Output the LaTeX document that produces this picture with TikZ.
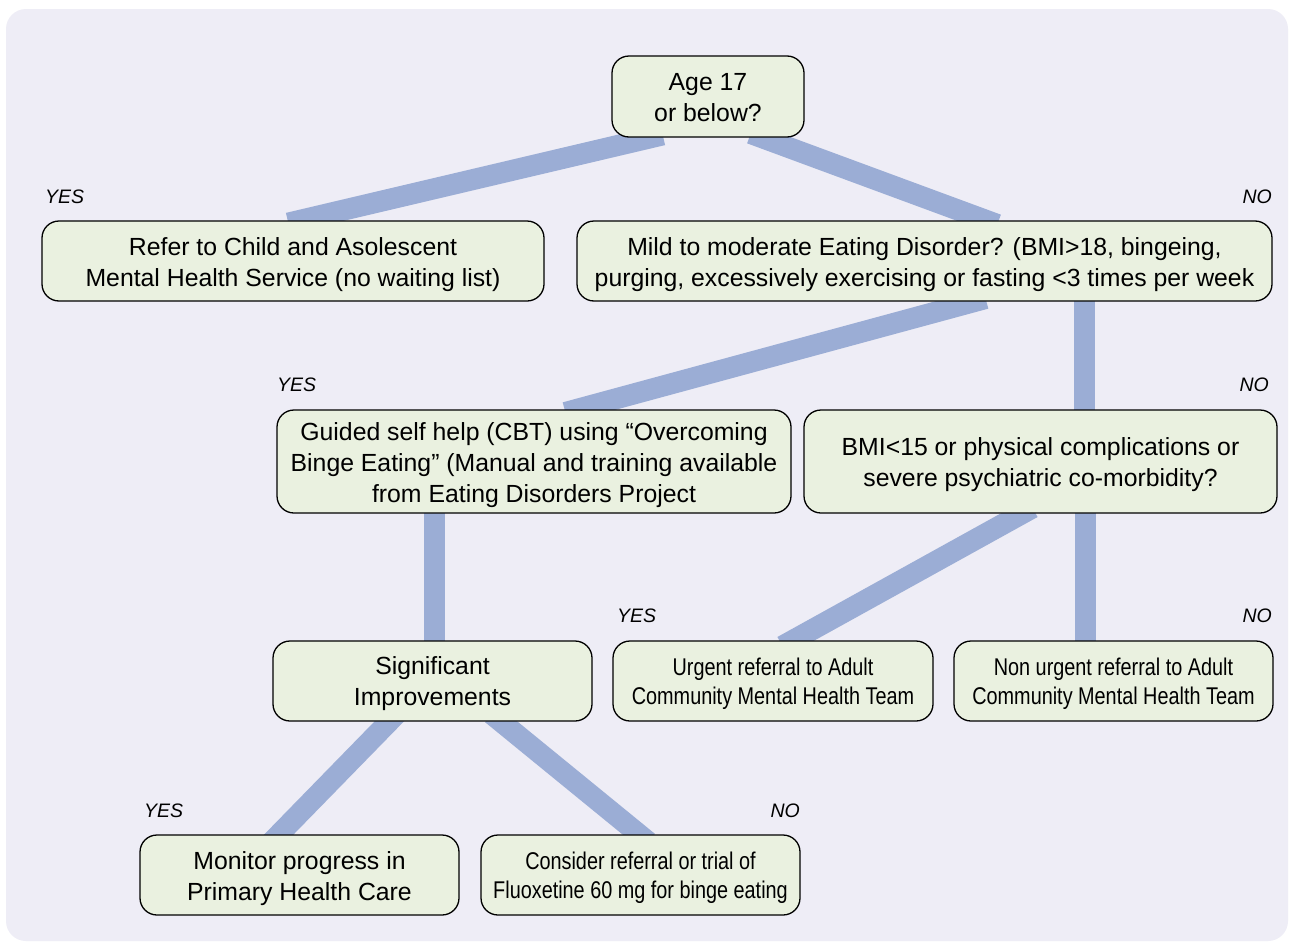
\documentclass[tikz,border=0pt]{standalone}
\usepackage{fontspec}
\setmainfont{Liberation Sans}
\newfontfamily\narrowfont[FakeStretch=0.82]{Liberation Sans}
\usetikzlibrary{calc}
\pgfdeclarelayer{bg}
\pgfsetlayers{bg,main}
\definecolor{bgcol}{HTML}{EEEDF6}
\definecolor{boxfill}{HTML}{EAF1E0}
\definecolor{linkcol}{HTML}{9BADD5}
\tikzset{
  box/.style={draw=black, line width=1.3pt, fill=boxfill, rounded corners=17pt, inner sep=0pt},
  btext/.style={inner sep=0pt, align=center, font=\fontsize{24.8}{31}\selectfont},
  ntext/.style={inner sep=0pt, align=center, font=\narrowfont\fontsize{24.2}{29}\selectfont},
  link/.style={draw=linkcol, line width=21pt, line cap=butt,
    shorten <=-12pt, shorten >=-12pt},
  yn/.style={inner sep=0pt, font=\fontsize{19.5}{22}\selectfont\itshape}
}
\begin{document}
\begin{tikzpicture}[x=1pt,y=-1pt]
\useasboundingbox (0,0) rectangle (1291,945);
\begin{pgfonlayer}{bg}
  \fill[white] (0,0) rectangle (1291,945);
  \fill[bgcol, rounded corners=20pt] (6,9) rectangle (1288,941);
\end{pgfonlayer}

\node[box, minimum width=192pt, minimum height=81pt] (age) at (708,96.5) {};
\node[box, minimum width=502pt, minimum height=80pt] (refer) at (293,261) {};
\node[box, minimum width=695pt, minimum height=80pt] (mild) at (924.5,261) {};
\node[box, minimum width=514pt, minimum height=103pt] (guided) at (534,461.5) {};
\node[box, minimum width=473pt, minimum height=103pt] (bmi) at (1040.5,461.5) {};
\node[box, minimum width=319pt, minimum height=80pt] (sig) at (432.5,681) {};
\node[box, minimum width=320pt, minimum height=80pt] (urgent) at (773,681) {};
\node[box, minimum width=319pt, minimum height=80pt] (nonurg) at (1113.5,681) {};
\node[box, minimum width=319pt, minimum height=80pt] (monitor) at (299.5,875) {};
\node[box, minimum width=319pt, minimum height=80pt] (consider) at (640.5,875) {};

\node[btext] (tage) at ($(age.center)+(0,1.5)$) {Age 17\\or below?};
\node[btext] (trefer) at ($(refer.center)+(0,4)$) {Refer to Child and Asolescent\\Mental Health Service (no waiting list)};
\node[btext] (tmild) at ($(mild.center)+(0,4)$) {Mild to moderate Eating Disorder? (BMI>18, bingeing,\\purging, excessively exercising or fasting <3 times per week};
\node[btext] (tguided) at ($(guided.center)+(0,3.5)$) {Guided self help (CBT) using “Overcoming\\Binge Eating” (Manual and training available\\from Eating Disorders Project};
\node[btext] (tbmi) at ($(bmi.center)+(0,3.5)$) {BMI<15 or physical complications or\\severe psychiatric co-morbidity?};
\node[btext] (tsig) at ($(sig.center)+(0,3)$) {Significant\\Improvements};
\node[ntext] (turgent) at ($(urgent.center)+(0,3)$) {Urgent referral to Adult\\Community Mental Health Team};
\node[ntext] (tnonurg) at ($(nonurg.center)+(0,3)$) {Non urgent referral to Adult\\Community Mental Health Team};
\node[btext] (tmonitor) at ($(monitor.center)+(0,3.5)$) {Monitor progress in\\Primary Health Care};
\node[ntext] (tconsider) at ($(consider.center)+(0,3)$) {Consider referral or trial of\\Fluoxetine 60 mg for binge eating};

\node[yn, anchor=west] (y1) at (45,197) {YES};
\node[yn, anchor=east] (n1) at (1272,197) {NO};
\node[yn, anchor=west] (y2) at (277,385) {YES};
\node[yn, anchor=east] (n2) at (1269,385) {NO};
\node[yn, anchor=west] (y3) at (617,616) {YES};
\node[yn, anchor=east] (n3) at (1272,616) {NO};
\node[yn, anchor=west] (y4) at (144,811) {YES};
\node[yn, anchor=east] (n4) at (800,811) {NO};

\begin{pgfonlayer}{bg}
  \draw[link] ($(age.south)+(-57,0)$) -- ($(refer.north)+(7,0)$);
  \draw[link] ($(age.south)+(54,0)$) -- ($(mild.north)+(61.5,0)$);
  \draw[link] ($(mild.south)+(49.5,0)$) -- ($(guided.north)+(43,0)$);
  \draw[link] ($(mild.south)+(159.5,0)$) -- ($(bmi.north)+(43.5,0)$);
  \draw[link] ($(bmi.south)+(-18.5,0)$) -- ($(urgent.north)+(20,0)$);
  \draw[link] ($(bmi.south)+(44.5,0)$) -- ($(nonurg.north)+(-28.5,0)$);
  \draw[link] ($(guided.south)+(-100,0)$) -- ($(sig.north)+(1.5,0)$);
  \draw[link] ($(sig.south)+(-43.5,0)$) -- ($(monitor.north)+(-20.5,0)$);
  \draw[link] ($(sig.south)+(68.5,0)$) -- ($(consider.north)+(-1.5,0)$);
\end{pgfonlayer}
\end{tikzpicture}
\end{document}
